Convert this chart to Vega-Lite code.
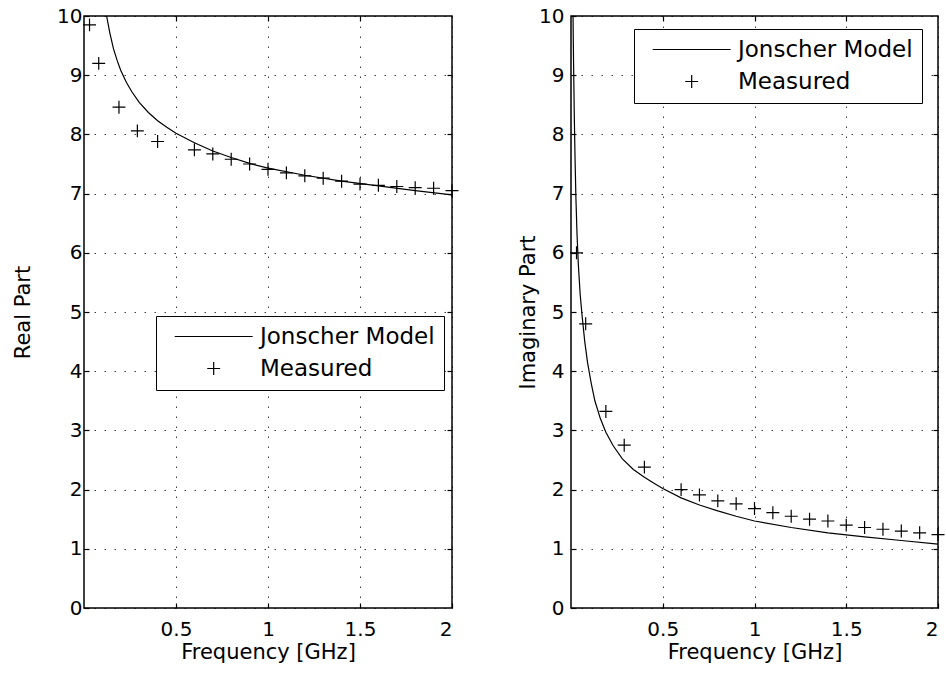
{
  "$schema": "https://vega.github.io/schema/vega-lite/v6.json",
  "background": "white",
  "padding": {"left": 11, "top": 5, "right": 4, "bottom": 4},
  "spacing": 19,
  "config": {
    "font": "DejaVu Sans",
    "view": {"stroke": "black", "strokeWidth": 1.5},
    "axis": {
      "domain": false,
      "gridColor": "black",
      "gridDash": [1.5, 8.5],
      "gridOpacity": 0.75,
      "gridWidth": 1,
      "tickColor": "black",
      "tickSize": -5,
      "tickWidth": 1.2,
      "labelPadding": 8,
      "labelFont": "DejaVu Sans",
      "labelFontSize": 20,
      "labelColor": "black",
      "titleFont": "DejaVu Sans",
      "titleFontSize": 21,
      "titleFontWeight": "normal",
      "titleColor": "black"
    },
    "axisX": {"labelPadding": 16, "titlePadding": 2},
    "legend": {
      "orient": "none", "title": null,
      "strokeColor": "black", "fillColor": "white", "padding": 9,
      "labelFont": "DejaVu Sans", "labelFontSize": 23, "labelColor": "black", "labelLimit": 400,
      "symbolStrokeColor": "black", "symbolStrokeWidth": 1.2, "symbolSize": 243, "symbolOpacity": 1,
      "symbolFillColor": "transparent", "rowPadding": 8, "labelOffset": 72
    }
  },
  "datasets": {
    "d": [
      {"panel": "Real", "series": "Jonscher Model", "freq": 0.123, "value": 10.0},
      {"panel": "Real", "series": "Jonscher Model", "freq": 0.14, "value": 9.72},
      {"panel": "Real", "series": "Jonscher Model", "freq": 0.16, "value": 9.45},
      {"panel": "Real", "series": "Jonscher Model", "freq": 0.18, "value": 9.25},
      {"panel": "Real", "series": "Jonscher Model", "freq": 0.2, "value": 9.08},
      {"panel": "Real", "series": "Jonscher Model", "freq": 0.23, "value": 8.88},
      {"panel": "Real", "series": "Jonscher Model", "freq": 0.26, "value": 8.72},
      {"panel": "Real", "series": "Jonscher Model", "freq": 0.3, "value": 8.54},
      {"panel": "Real", "series": "Jonscher Model", "freq": 0.35, "value": 8.37},
      {"panel": "Real", "series": "Jonscher Model", "freq": 0.4, "value": 8.23},
      {"panel": "Real", "series": "Jonscher Model", "freq": 0.45, "value": 8.12},
      {"panel": "Real", "series": "Jonscher Model", "freq": 0.5, "value": 8.02},
      {"panel": "Real", "series": "Jonscher Model", "freq": 0.6, "value": 7.86},
      {"panel": "Real", "series": "Jonscher Model", "freq": 0.7, "value": 7.72},
      {"panel": "Real", "series": "Jonscher Model", "freq": 0.8, "value": 7.61},
      {"panel": "Real", "series": "Jonscher Model", "freq": 0.9, "value": 7.51},
      {"panel": "Real", "series": "Jonscher Model", "freq": 1.0, "value": 7.43},
      {"panel": "Real", "series": "Jonscher Model", "freq": 1.2, "value": 7.31},
      {"panel": "Real", "series": "Jonscher Model", "freq": 1.4, "value": 7.21},
      {"panel": "Real", "series": "Jonscher Model", "freq": 1.6, "value": 7.13},
      {"panel": "Real", "series": "Jonscher Model", "freq": 1.8, "value": 7.05},
      {"panel": "Real", "series": "Jonscher Model", "freq": 2.0, "value": 6.98},
      {"panel": "Real", "series": "Measured", "freq": 0.03, "value": 9.85},
      {"panel": "Real", "series": "Measured", "freq": 0.08, "value": 9.2},
      {"panel": "Real", "series": "Measured", "freq": 0.19, "value": 8.46},
      {"panel": "Real", "series": "Measured", "freq": 0.29, "value": 8.06},
      {"panel": "Real", "series": "Measured", "freq": 0.4, "value": 7.88},
      {"panel": "Real", "series": "Measured", "freq": 0.6, "value": 7.74},
      {"panel": "Real", "series": "Measured", "freq": 0.7, "value": 7.67},
      {"panel": "Real", "series": "Measured", "freq": 0.8, "value": 7.58},
      {"panel": "Real", "series": "Measured", "freq": 0.9, "value": 7.5},
      {"panel": "Real", "series": "Measured", "freq": 1.0, "value": 7.41},
      {"panel": "Real", "series": "Measured", "freq": 1.1, "value": 7.35},
      {"panel": "Real", "series": "Measured", "freq": 1.2, "value": 7.3},
      {"panel": "Real", "series": "Measured", "freq": 1.3, "value": 7.26},
      {"panel": "Real", "series": "Measured", "freq": 1.4, "value": 7.21},
      {"panel": "Real", "series": "Measured", "freq": 1.5, "value": 7.16},
      {"panel": "Real", "series": "Measured", "freq": 1.6, "value": 7.14},
      {"panel": "Real", "series": "Measured", "freq": 1.7, "value": 7.12},
      {"panel": "Real", "series": "Measured", "freq": 1.8, "value": 7.1},
      {"panel": "Real", "series": "Measured", "freq": 1.9, "value": 7.09},
      {"panel": "Real", "series": "Measured", "freq": 2.0, "value": 7.05},
      {"panel": "Imaginary", "series": "Jonscher Model", "freq": 0.011, "value": 10.0},
      {"panel": "Imaginary", "series": "Jonscher Model", "freq": 0.014, "value": 9.2},
      {"panel": "Imaginary", "series": "Jonscher Model", "freq": 0.018, "value": 8.3},
      {"panel": "Imaginary", "series": "Jonscher Model", "freq": 0.022, "value": 7.6},
      {"panel": "Imaginary", "series": "Jonscher Model", "freq": 0.027, "value": 6.9},
      {"panel": "Imaginary", "series": "Jonscher Model", "freq": 0.033, "value": 6.3},
      {"panel": "Imaginary", "series": "Jonscher Model", "freq": 0.04, "value": 5.8},
      {"panel": "Imaginary", "series": "Jonscher Model", "freq": 0.05, "value": 5.3},
      {"panel": "Imaginary", "series": "Jonscher Model", "freq": 0.06, "value": 4.95},
      {"panel": "Imaginary", "series": "Jonscher Model", "freq": 0.075, "value": 4.5},
      {"panel": "Imaginary", "series": "Jonscher Model", "freq": 0.09, "value": 4.15},
      {"panel": "Imaginary", "series": "Jonscher Model", "freq": 0.11, "value": 3.8},
      {"panel": "Imaginary", "series": "Jonscher Model", "freq": 0.13, "value": 3.5},
      {"panel": "Imaginary", "series": "Jonscher Model", "freq": 0.16, "value": 3.2},
      {"panel": "Imaginary", "series": "Jonscher Model", "freq": 0.19, "value": 2.97},
      {"panel": "Imaginary", "series": "Jonscher Model", "freq": 0.23, "value": 2.74},
      {"panel": "Imaginary", "series": "Jonscher Model", "freq": 0.28, "value": 2.52},
      {"panel": "Imaginary", "series": "Jonscher Model", "freq": 0.34, "value": 2.34},
      {"panel": "Imaginary", "series": "Jonscher Model", "freq": 0.4, "value": 2.21},
      {"panel": "Imaginary", "series": "Jonscher Model", "freq": 0.45, "value": 2.11},
      {"panel": "Imaginary", "series": "Jonscher Model", "freq": 0.5, "value": 2.02},
      {"panel": "Imaginary", "series": "Jonscher Model", "freq": 0.6, "value": 1.86},
      {"panel": "Imaginary", "series": "Jonscher Model", "freq": 0.7, "value": 1.74},
      {"panel": "Imaginary", "series": "Jonscher Model", "freq": 0.8, "value": 1.64},
      {"panel": "Imaginary", "series": "Jonscher Model", "freq": 0.9, "value": 1.55},
      {"panel": "Imaginary", "series": "Jonscher Model", "freq": 1.0, "value": 1.47},
      {"panel": "Imaginary", "series": "Jonscher Model", "freq": 1.2, "value": 1.36},
      {"panel": "Imaginary", "series": "Jonscher Model", "freq": 1.4, "value": 1.27},
      {"panel": "Imaginary", "series": "Jonscher Model", "freq": 1.6, "value": 1.2},
      {"panel": "Imaginary", "series": "Jonscher Model", "freq": 1.8, "value": 1.14},
      {"panel": "Imaginary", "series": "Jonscher Model", "freq": 2.0, "value": 1.08},
      {"panel": "Imaginary", "series": "Measured", "freq": 0.03, "value": 6.0},
      {"panel": "Imaginary", "series": "Measured", "freq": 0.08, "value": 4.8},
      {"panel": "Imaginary", "series": "Measured", "freq": 0.19, "value": 3.32},
      {"panel": "Imaginary", "series": "Measured", "freq": 0.29, "value": 2.75},
      {"panel": "Imaginary", "series": "Measured", "freq": 0.4, "value": 2.38},
      {"panel": "Imaginary", "series": "Measured", "freq": 0.6, "value": 2.0},
      {"panel": "Imaginary", "series": "Measured", "freq": 0.7, "value": 1.91},
      {"panel": "Imaginary", "series": "Measured", "freq": 0.8, "value": 1.81},
      {"panel": "Imaginary", "series": "Measured", "freq": 0.9, "value": 1.76},
      {"panel": "Imaginary", "series": "Measured", "freq": 1.0, "value": 1.68},
      {"panel": "Imaginary", "series": "Measured", "freq": 1.1, "value": 1.61},
      {"panel": "Imaginary", "series": "Measured", "freq": 1.2, "value": 1.55},
      {"panel": "Imaginary", "series": "Measured", "freq": 1.3, "value": 1.5},
      {"panel": "Imaginary", "series": "Measured", "freq": 1.4, "value": 1.47},
      {"panel": "Imaginary", "series": "Measured", "freq": 1.5, "value": 1.4},
      {"panel": "Imaginary", "series": "Measured", "freq": 1.6, "value": 1.36},
      {"panel": "Imaginary", "series": "Measured", "freq": 1.7, "value": 1.33},
      {"panel": "Imaginary", "series": "Measured", "freq": 1.8, "value": 1.3},
      {"panel": "Imaginary", "series": "Measured", "freq": 1.9, "value": 1.27},
      {"panel": "Imaginary", "series": "Measured", "freq": 2.0, "value": 1.24}
    ]
  },
  "hconcat": [
    {
      "width": 368,
      "height": 592,
      "data": {"name": "d"},
      "transform": [{"filter": "datum.panel === 'Real'"}],
      "layer": [
        {
          "transform": [{"filter": "datum.series === 'Jonscher Model'"}],
          "mark": {"type": "line", "color": "black", "strokeWidth": 1.2},
          "encoding": {
            "x": {"field": "freq", "type": "quantitative", "scale": {"domain": [0, 2], "nice": false},
                  "axis": {"orient": "bottom", "values": [0.5, 1, 1.5, 2], "format": "~r", "title": "Frequency [GHz]"}},
            "y": {"field": "value", "type": "quantitative", "scale": {"domain": [0, 10], "nice": false},
                  "axis": {"orient": "left", "values": [0, 1, 2, 3, 4, 5, 6, 7, 8, 9, 10], "format": "d", "title": "Real Part", "labelPadding": 7, "titlePadding": 23}}
          }
        },
        {
          "transform": [{"filter": "datum.series === 'Measured'"}],
          "mark": {"type": "point", "filled": false, "color": "black", "opacity": 1, "strokeWidth": 1.2, "size": 243, "clip": false, "shape": "M-0.83,0H0.83M0,-0.83V0.83"},
          "encoding": {
            "x": {"field": "freq", "type": "quantitative",
                  "axis": {"orient": "top", "values": [0.5, 1, 1.5], "labels": false, "title": null, "grid": false}},
            "y": {"field": "value", "type": "quantitative",
                  "axis": {"orient": "right", "values": [1, 2, 3, 4, 5, 6, 7, 8, 9], "labels": false, "title": null, "grid": false}}
          }
        },
        {
          "transform": [{"filter": "datum.series === 'Measured'"}],
          "mark": {"type": "point", "filled": false, "color": "black", "strokeWidth": 1.2, "size": 243, "opacity": 0},
          "encoding": {
            "x": {"field": "freq", "type": "quantitative", "axis": null},
            "y": {"field": "value", "type": "quantitative", "axis": null},
            "shape": {"field": "series", "type": "nominal",
                      "scale": {"domain": ["Jonscher Model", "Measured"], "range": ["M-0.23,0H9.77", "M3.94,0H5.6M4.77,-0.83V0.83"]},
                      "legend": {"legendX": 72, "legendY": 300, "symbolOpacity": 1}}
          }
        }
      ]
    },
    {
      "width": 367,
      "height": 592,
      "data": {"name": "d"},
      "transform": [{"filter": "datum.panel === 'Imaginary'"}],
      "layer": [
        {
          "transform": [{"filter": "datum.series === 'Jonscher Model'"}],
          "mark": {"type": "line", "color": "black", "strokeWidth": 1.2},
          "encoding": {
            "x": {"field": "freq", "type": "quantitative", "scale": {"domain": [0, 2], "nice": false},
                  "axis": {"orient": "bottom", "values": [0.5, 1, 1.5, 2], "format": "~r", "title": "Frequency [GHz]"}},
            "y": {"field": "value", "type": "quantitative", "scale": {"domain": [0, 10], "nice": false},
                  "axis": {"orient": "left", "values": [0, 1, 2, 3, 4, 5, 6, 7, 8, 9, 10], "format": "d", "title": "Imaginary Part", "labelPadding": 12, "titlePadding": 0}}
          }
        },
        {
          "transform": [{"filter": "datum.series === 'Measured'"}],
          "mark": {"type": "point", "filled": false, "color": "black", "opacity": 1, "strokeWidth": 1.2, "size": 243, "clip": false, "shape": "M-0.83,0H0.83M0,-0.83V0.83"},
          "encoding": {
            "x": {"field": "freq", "type": "quantitative",
                  "axis": {"orient": "top", "values": [0.5, 1, 1.5], "labels": false, "title": null, "grid": false}},
            "y": {"field": "value", "type": "quantitative",
                  "axis": {"orient": "right", "values": [1, 2, 3, 4, 5, 6, 7, 8, 9], "labels": false, "title": null, "grid": false}}
          }
        },
        {
          "transform": [{"filter": "datum.series === 'Measured'"}],
          "mark": {"type": "point", "filled": false, "color": "black", "strokeWidth": 1.2, "size": 243, "opacity": 0},
          "encoding": {
            "x": {"field": "freq", "type": "quantitative", "axis": null},
            "y": {"field": "value", "type": "quantitative", "axis": null},
            "shape": {"field": "series", "type": "nominal",
                      "scale": {"domain": ["Jonscher Model", "Measured"], "range": ["M-0.23,0H9.77", "M3.94,0H5.6M4.77,-0.83V0.83"]},
                      "legend": {"legendX": 63, "legendY": 13, "symbolOpacity": 1}}
          }
        }
      ]
    }
  ],
  "resolve": {"legend": {"shape": "independent"}}
}
